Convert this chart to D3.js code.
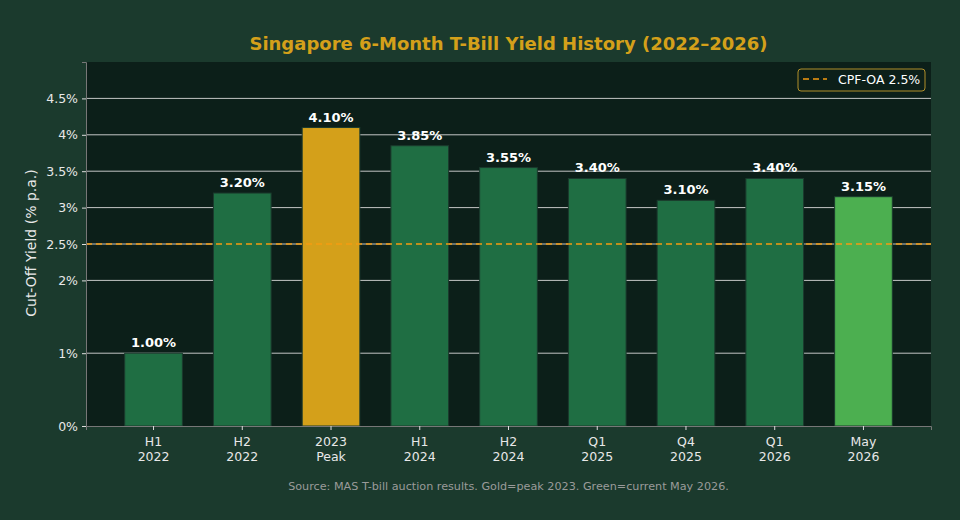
<!DOCTYPE html>
<html>
<head>
<meta charset="utf-8">
<script src="https://cdn.jsdelivr.net/npm/d3@7"></script>
<style>
  body { margin: 0; background: #1b3a2d; }
  svg { display: block; font-family: "DejaVu Sans", sans-serif; }
</style>
</head>
<body>
<div id="chart"></div>
<script>
// chart data
const periods = ["H1\n2022", "H2\n2022", "2023\nPeak", "H1\n2024", "H2\n2024", "Q1\n2025", "Q4\n2025", "Q1\n2026", "May\n2026"];
const yields = [1.00, 3.20, 4.10, 3.85, 3.55, 3.40, 3.10, 3.40, 3.15];
const barKinds = ["normal", "normal", "peak", "normal", "normal", "normal", "normal", "normal", "current"];
const yTicks = [0, 1, 2, 2.5, 3, 3.5, 4, 4.5];
const cpfRate = 2.5;

const width = 960, height = 520;
const plotLeft = 86, plotRight = 931, plotTop = 62, plotBottom = 426;

const kindColor = { normal: "#1f6e43", peak: "#d4a01a", current: "#4caf50" };

const svg = d3.select("#chart")
    .append("svg")
        .attr("width", width)
        .attr("height", height);

svg.append("rect")
    .attr("width", width)
    .attr("height", height)
    .attr("fill", "#1b3a2d");

svg.append("rect")
    .attr("x", plotLeft)
    .attr("y", plotTop)
    .attr("width", plotRight - plotLeft)
    .attr("height", plotBottom - plotTop)
    .attr("fill", "#0c1f19");

const xScale = d3.scaleBand()
    .domain(periods)
    .range([plotLeft, plotRight])
    .paddingInner(0.35)
    .paddingOuter(0.436);

const yScale = d3.scaleLinear()
    .domain([0, 5])
    .range([plotBottom, plotTop]);

// grid lines
svg.append("g")
    .selectAll("line")
    .data(yTicks.filter(d => d > 0))
    .enter()
    .append("line")
        .attr("x1", plotLeft)
        .attr("x2", plotRight)
        .attr("y1", d => yScale(d))
        .attr("y2", d => yScale(d))
        .attr("stroke", "#d8d8d8")
        .attr("stroke-opacity", 0.9)
        .attr("stroke-width", 1);

// bars
svg.append("g")
    .selectAll("rect")
    .data(yields)
    .enter()
    .append("rect")
        .attr("x", (d, i) => xScale(periods[i]))
        .attr("y", d => yScale(d))
        .attr("width", xScale.bandwidth())
        .attr("height", d => plotBottom - yScale(d))
        .attr("fill", (d, i) => kindColor[barKinds[i]])
        .attr("stroke", "#1b3a2d")
        .attr("stroke-width", 1);

// value labels
svg.append("g")
    .selectAll("text")
    .data(yields)
    .enter()
    .append("text")
        .attr("x", (d, i) => xScale(periods[i]) + xScale.bandwidth() / 2)
        .attr("y", d => yScale(d) - 6)
        .attr("text-anchor", "middle")
        .attr("fill", "#ffffff")
        .attr("font-size", 13)
        .attr("font-weight", "bold")
        .text(d => d.toFixed(2) + "%");

// CPF-OA reference line
svg.append("line")
    .attr("x1", plotLeft)
    .attr("x2", plotRight)
    .attr("y1", yScale(cpfRate))
    .attr("y2", yScale(cpfRate))
    .attr("stroke", "#f39c12")
    .attr("stroke-width", 1.6)
    .attr("stroke-dasharray", "6,4");

// axes
const yAxis = svg.append("g")
    .attr("transform", `translate(${plotLeft},0)`)
    .call(d3.axisLeft(yScale)
        .tickValues(yTicks)
        .tickSize(4)
        .tickPadding(4)
        .tickFormat(d => d + "%"));

const xAxis = svg.append("g")
    .attr("transform", `translate(0,${plotBottom})`)
    .call(d3.axisBottom(xScale).tickSize(4).tickPadding(4).tickFormat(""));

[yAxis, xAxis].forEach(ax => {
    ax.select(".domain").attr("stroke", "#777777");
    ax.selectAll(".tick line").attr("stroke", "#dddddd");
    ax.selectAll(".tick text").attr("fill", "#e8e8e8").attr("font-size", 12.5).attr("font-family", "DejaVu Sans");
});

// two-line x tick labels
xAxis.selectAll(".tick").each(function(d) {
    const lines = d.split("\n");
    const t = d3.select(this).append("text")
        .attr("fill", "#e8e8e8")
        .attr("font-size", 12.5)
        .attr("font-family", "DejaVu Sans")
        .attr("text-anchor", "middle")
        .attr("y", 20);
    lines.forEach((line, k) => {
        t.append("tspan")
            .attr("x", 0)
            .attr("dy", k === 0 ? 0 : 15)
            .text(line);
    });
});

// titles
svg.append("text")
    .attr("x", (plotLeft + plotRight) / 2)
    .attr("y", 50)
    .attr("text-anchor", "middle")
    .attr("fill", "#d4a01a")
    .attr("font-size", 18)
    .attr("font-weight", "bold")
    .text("Singapore 6-Month T-Bill Yield History (2022\u20132026)");

svg.append("text")
    .attr("transform", "rotate(-90)")
    .attr("x", -(plotTop + plotBottom) / 2 + 1)
    .attr("y", 36)
    .attr("text-anchor", "middle")
    .attr("fill", "#e8e8e8")
    .attr("font-size", 14)
    .text("Cut-Off Yield (% p.a.)");

svg.append("text")
    .attr("x", (plotLeft + plotRight) / 2)
    .attr("y", 490)
    .attr("text-anchor", "middle")
    .attr("fill", "#9a9a9a")
    .attr("font-size", 11.2)
    .text("Source: MAS T-bill auction results. Gold=peak 2023. Green=current May 2026.");

// legend
const legend = svg.append("g").attr("transform", "translate(798,69)");
legend.append("rect")
    .attr("width", 127)
    .attr("height", 22)
    .attr("rx", 3)
    .attr("fill", "#0c1f19")
    .attr("stroke", "#b08f2a")
    .attr("stroke-width", 1);
legend.append("line")
    .attr("x1", 5)
    .attr("x2", 29)
    .attr("y1", 10)
    .attr("y2", 10)
    .attr("stroke", "#f39c12")
    .attr("stroke-width", 1.6)
    .attr("stroke-dasharray", "6,4");
legend.append("text")
    .attr("x", 40)
    .attr("y", 15)
    .attr("fill", "#ffffff")
    .attr("font-size", 12.5)
    .text("CPF-OA 2.5%");
</script>
</body>
</html>
